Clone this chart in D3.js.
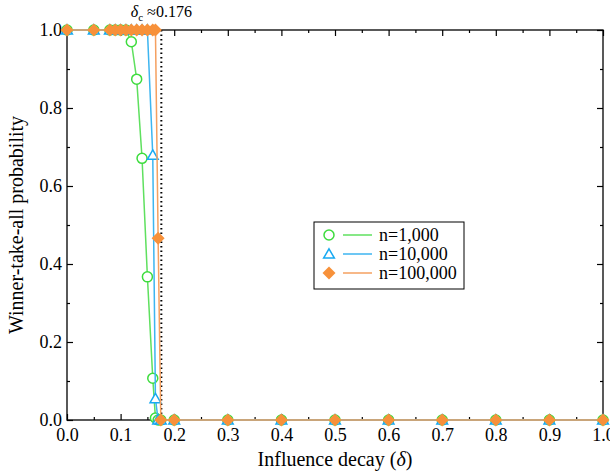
<!DOCTYPE html>
<html lang="en">
<head>
<meta charset="UTF-8">
<script src="https://d3js.org/d3.v7.min.js"></script>
<title>Winner-take-all probability</title>
<style>
  body { margin: 0; background: white; }
  svg { font-family: "Liberation Serif", "DejaVu Serif", serif; }
</style>
</head>
<body>
<script>
// data
var deltas = [0, 0.05, 0.08, 0.09, 0.10, 0.11, 0.12, 0.13, 0.14, 0.15, 0.16, 0.165, 0.17, 0.175,
              0.2, 0.3, 0.4, 0.5, 0.6, 0.7, 0.8, 0.9, 1.0];
var p1k   = [1, 1, 1, 1, 1, 1, 0.97, 0.874, 0.671, 0.367, 0.107, 0.005, 0, 0,
             0, 0, 0, 0, 0, 0, 0, 0, 0];
var p10k  = [1, 1, 1, 1, 1, 1, 1, 1, 1, 1, 0.679, 0.055, 0, 0,
             0, 0, 0, 0, 0, 0, 0, 0, 0];
var p100k = [1, 1, 1, 1, 1, 1, 1, 1, 1, 1, 1, 1, 0.466, 0,
             0, 0, 0, 0, 0, 0, 0, 0, 0];
var seriesNames = ["n=1,000", "n=10,000", "n=100,000"];
var xTicks = [0, 0.1, 0.2, 0.3, 0.4, 0.5, 0.6, 0.7, 0.8, 0.9, 1.0];
var yTicks = [0, 0.2, 0.4, 0.6, 0.8, 1.0];
var deltaC = 0.176;

var W = 610, H = 475;
var margin = {left: 67, right: 7, top: 30, bottom: 55};
var w = W - margin.left - margin.right;
var h = H - margin.top - margin.bottom;

var svg = d3.select("body").append("svg").attr("width", W).attr("height", H);
var g = svg.append("g").attr("transform", "translate(" + margin.left + "," + margin.top + ")");

var x = d3.scaleLinear().domain([0, 1]).range([0, w]);
var y = d3.scaleLinear().domain([0, 1]).range([h, 0]);

var colors = ["#3ddc3d", "#17a9f2", "#f7913a"];
var lineColors = ["#5fe05f", "#3db5f0", "#f5a060"];

// axes, ticks inward on all sides
function tickAxis(axis, major, pad) {
    return axis.tickValues(major).tickSizeInner(-6).tickSizeOuter(0).tickPadding(pad);
}
var xMinor = d3.range(0.05, 1, 0.1);
var yMinor = d3.range(0.1, 1, 0.2);

g.append("g").attr("transform", "translate(0," + h + ")")
    .call(tickAxis(d3.axisBottom(x), xTicks, 8).tickFormat(d3.format(".1f")));
g.append("g")
    .call(tickAxis(d3.axisLeft(y), yTicks, 5).tickFormat(d3.format(".1f")));
g.append("g").call(tickAxis(d3.axisTop(x), xTicks, 3).tickFormat(""));
g.append("g").attr("transform", "translate(" + w + ",0)")
    .call(tickAxis(d3.axisRight(y), yTicks, 3).tickFormat(""));

g.append("g").attr("transform", "translate(0," + h + ")")
    .call(d3.axisBottom(x).tickValues(xMinor).tickSizeInner(-3).tickSizeOuter(0).tickFormat(""));
g.append("g").call(d3.axisTop(x).tickValues(xMinor).tickSizeInner(-3).tickSizeOuter(0).tickFormat(""));
g.append("g").call(d3.axisLeft(y).tickValues(yMinor).tickSizeInner(-3).tickSizeOuter(0).tickFormat(""));
g.append("g").attr("transform", "translate(" + w + ",0)")
    .call(d3.axisRight(y).tickValues(yMinor).tickSizeInner(-3).tickSizeOuter(0).tickFormat(""));

g.selectAll(".domain").remove();
g.selectAll(".tick line").attr("stroke", "#000").attr("stroke-width", 1.2);
g.selectAll(".tick text").attr("font-family", "Liberation Serif").attr("font-size", 18).attr("fill", "#000");

g.append("rect").attr("width", w).attr("height", h)
    .attr("fill", "none").attr("stroke", "#000").attr("stroke-width", 1.3);

// critical delta
g.append("line")
    .attr("x1", x(deltaC)).attr("x2", x(deltaC))
    .attr("y1", 0).attr("y2", h)
    .attr("stroke", "#000").attr("stroke-width", 2).attr("stroke-dasharray", "1.5,3");

var lbl = svg.append("text")
    .attr("x", margin.left + x(deltaC)).attr("y", 17)
    .attr("text-anchor", "middle").attr("font-size", 16);
lbl.append("tspan").attr("font-style", "italic").text("δ");
lbl.append("tspan").attr("font-size", 11).attr("dy", 4).text("c");
lbl.append("tspan").attr("dy", -4).text(" ≈0.176");

// series
var series = [p1k, p10k, p100k].map(function(vals, i) {
    return deltas.map(function(d, j) { return {x: d, y: vals[j]}; });
});

var line = d3.line().x(function(d) { return x(d.x); }).y(function(d) { return y(d.y); });

function drawMarker(sel, i) {
    if (i === 0) {
        sel.append("circle").attr("r", 5)
            .attr("fill", "white").attr("stroke", colors[0]).attr("stroke-width", 1.5);
    } else if (i === 1) {
        sel.append("path").attr("d", d3.symbol(d3.symbolTriangle, 50)())
            .attr("transform", "translate(0,1)")
            .attr("fill", "white").attr("stroke", colors[1]).attr("stroke-width", 1.5);
    } else {
        sel.append("path").attr("d", d3.symbol(d3.symbolSquare, 85)())
            .attr("transform", "rotate(45)")
            .attr("fill", colors[2]).attr("stroke", "none");
    }
}

series.forEach(function(s, i) {
    g.append("path").datum(s).attr("d", line)
        .attr("fill", "none").attr("stroke", lineColors[i]).attr("stroke-width", 1.5);
    g.selectAll(".m" + i).data(s).enter().append("g")
        .attr("class", "m" + i)
        .attr("transform", function(d) { return "translate(" + x(d.x) + "," + y(d.y) + ")"; })
        .each(function() { drawMarker(d3.select(this), i); });
});

// legend
var lg = svg.append("g").attr("transform", "translate(314,222)");
lg.append("rect").attr("width", 150).attr("height", 67)
    .attr("fill", "white").attr("stroke", "#000").attr("stroke-width", 1);
seriesNames.forEach(function(name, i) {
    var row = lg.append("g").attr("transform", "translate(0," + (13 + i * 19) + ")");
    var mk = row.append("g").attr("transform", "translate(15,0)");
    drawMarker(mk, i);
    row.append("line").attr("x1", 29).attr("x2", 58).attr("y1", 0).attr("y2", 0)
        .attr("stroke", lineColors[i]).attr("stroke-width", 1.5);
    row.append("text").attr("x", 65).attr("y", 6).attr("font-size", 18).text(name);
});

// axis titles
svg.append("text")
    .attr("x", margin.left + w / 2).attr("y", 466)
    .attr("text-anchor", "middle").attr("font-size", 20)
    .html("Influence decay (<tspan font-style='italic'>δ</tspan>)");
svg.append("text")
    .attr("transform", "translate(23," + (margin.top + h / 2) + ") rotate(-90)")
    .attr("text-anchor", "middle").attr("font-size", 20)
    .text("Winner-take-all probability");
</script>
</body>
</html>
